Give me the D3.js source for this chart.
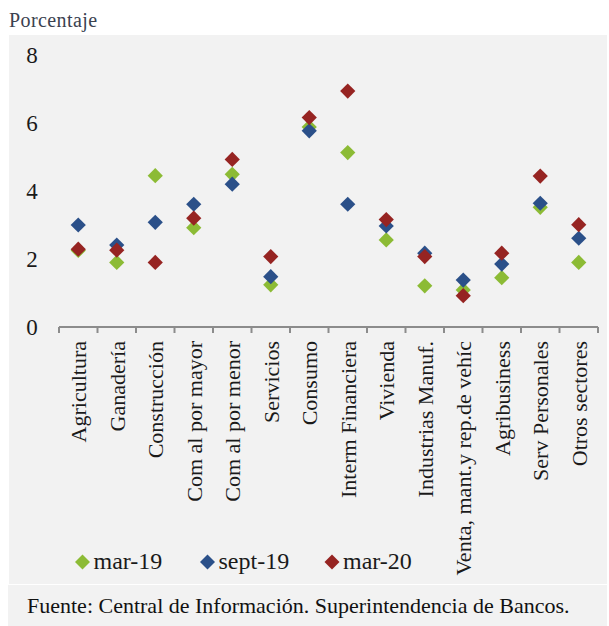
<!DOCTYPE html>
<html>
<head>
<meta charset="utf-8">
<script src="https://cdn.jsdelivr.net/npm/d3@7"></script>
<style>
  html, body { margin: 0; padding: 0; background: #ffffff; }
  svg { display: block; }
  text { font-family: "Liberation Serif", "DejaVu Serif", serif; }
</style>
</head>
<body>
<svg id="chart" width="609" height="626"></svg>
<script>
// Sectors on the category axis
const sectors = [
  "Agricultura", "Ganadería", "Construcción", "Com al por mayor", "Com al por menor",
  "Servicios", "Consumo", "Interm Financiera", "Vivienda", "Industrias Manuf.",
  "Venta, mant.y rep.de vehíc", "Agribusiness", "Serv Personales", "Otros sectores"
];

// Series values (percent) per sector
const mar19  = [2.25, 1.90, 4.45, 2.92, 4.49, 1.24, 5.88, 5.13, 2.56, 1.21, 1.09, 1.45, 3.52, 1.90];
const sept19 = [3.00, 2.41, 3.08, 3.61, 4.20, 1.48, 5.77, 3.61, 2.97, 2.17, 1.38, 1.85, 3.64, 2.61];
const mar20  = [2.29, 2.26, 1.90, 3.20, 4.93, 2.07, 6.16, 6.94, 3.16, 2.07, 0.92, 2.17, 4.44, 3.01];

const seriesNames  = ["mar-19", "sept-19", "mar-20"];
const seriesColors = ["#8cbb35", "#2b5089", "#962422"];
const yTicks = [0, 2, 4, 6, 8];

const series = [mar19, sept19, mar20].map((vals, i) => ({
  name: seriesNames[i], color: seriesColors[i], values: vals
}));

const svg = d3.select("#chart");

// Panel backgrounds
svg.append("rect").attr("x", 9).attr("y", 35).attr("width", 598).attr("height", 549).attr("fill", "#f2f2f2");
svg.append("rect").attr("x", 8).attr("y", 585).attr("width", 599).attr("height", 41).attr("fill", "#f2f2f2");

// Unit label
svg.append("text").attr("x", 9).attr("y", 27)
  .attr("font-size", 20).attr("letter-spacing", 0.4).attr("fill", "#3b4250").text("Porcentaje");

const x = d3.scaleBand().domain(sectors).range([59, 598]).padding(0);
const y = d3.scaleLinear().domain([0, 8]).range([327, 55]);

// Y tick labels (no axis line)
const yAxis = svg.append("g").attr("transform", "translate(40,0)")
  .call(d3.axisLeft(y).tickValues(yTicks).tickSize(0).tickPadding(0).tickFormat(d3.format("d")));
yAxis.select(".domain").remove();
yAxis.attr("font-family", null);
yAxis.selectAll("text")
  .attr("font-size", 23).attr("fill", "#1a1a1a").attr("text-anchor", "middle").attr("dx", -8);

// Category axis with boundary ticks
const xAxisG = svg.append("g").attr("transform", `translate(0,${y(0)})`);
xAxisG.append("line").attr("x1", x.range()[0]).attr("x2", x.range()[1])
  .attr("y1", 0).attr("y2", 0).attr("stroke", "#8c8c8c").attr("stroke-width", 2);
const bounds = sectors.map(s => x(s)).concat([x.range()[1]]);
xAxisG.selectAll("line.tick").data(bounds).join("line").attr("class", "tick")
  .attr("x1", d => d).attr("x2", d => d).attr("y1", 0).attr("y2", 6)
  .attr("stroke", "#8c8c8c").attr("stroke-width", 2);
xAxisG.selectAll("text.cat").data(sectors).join("text").attr("class", "cat")
  .attr("transform", d => `translate(${x(d) + x.bandwidth() / 2 + 8},14) rotate(-90)`)
  .attr("text-anchor", "end").attr("font-size", 22).attr("fill", "#1a1a1a")
  .text(d => d);

// Diamond markers
const half = 7.6;
series.forEach(s => {
  svg.append("g").selectAll("path").data(s.values).join("path")
    .attr("d", (v, i) => {
      const cx = x(sectors[i]) + x.bandwidth() / 2, cy = y(v);
      return `M${cx},${cy - half}L${cx + half},${cy}L${cx},${cy + half}L${cx - half},${cy}Z`;
    })
    .attr("fill", s.color);
});

// Legend
const legendX = [82.5, 207.5, 332];
const legend = svg.append("g");
series.forEach((s, i) => {
  const lx = legendX[i], ly = 562;
  const h = 7.5;
  legend.append("path")
    .attr("d", `M${lx},${ly - h}L${lx + h},${ly}L${lx},${ly + h}L${lx - h},${ly}Z`)
    .attr("fill", s.color);
  legend.append("text").attr("x", lx + 11).attr("y", ly + 7)
    .attr("font-size", 24).attr("fill", "#1a1a1a").text(s.name);
});

// Source note
svg.append("text").attr("x", 27).attr("y", 613)
  .attr("font-size", 22).attr("fill", "#111").text("Fuente: Central de Información. Superintendencia de Bancos.");
</script>
</body>
</html>
